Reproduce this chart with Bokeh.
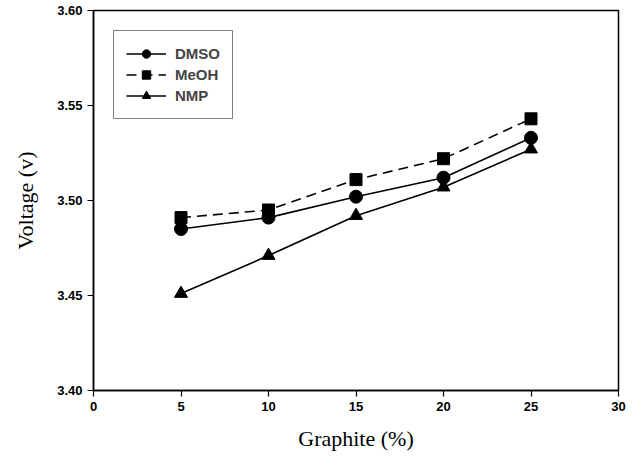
from bokeh.plotting import figure
from bokeh.embed import file_html
from bokeh.resources import INLINE
from bokeh.models import FixedTicker, PrintfTickFormatter, Legend, LegendItem, Range1d

graphite = [5, 10, 15, 20, 25]
dmso = [3.485, 3.491, 3.502, 3.512, 3.533]
meoh = [3.491, 3.495, 3.511, 3.522, 3.543]
nmp = [3.451, 3.471, 3.492, 3.507, 3.527]
x_ticks = [0, 5, 10, 15, 20, 25, 30]
y_ticks = [3.40, 3.45, 3.50, 3.55, 3.60]

p = figure(width=633, height=459, output_backend="svg", toolbar_location=None,
           x_range=Range1d(0, 30), y_range=Range1d(3.40, 3.60),
           min_border_left=93, min_border_right=15, min_border_top=10, min_border_bottom=69)
p.outline_line_color = "black"
p.outline_line_width = 1.5
p.xgrid.visible = False
p.ygrid.visible = False

l1 = p.line(graphite, dmso, line_color="black", line_width=1.6)
m1 = p.scatter(graphite, dmso, marker="circle", size=13, fill_color="black", line_color="black")
l2 = p.line(graphite, meoh, line_color="black", line_width=1.6, line_dash="10 6")
m2 = p.scatter(graphite, meoh, marker="square", size=12, fill_color="black", line_color="black")
l3 = p.line(graphite, nmp, line_color="black", line_width=1.6)
m3 = p.scatter(graphite, nmp, marker="triangle", size=13, fill_color="black", line_color="black")

legend = Legend(items=[
    LegendItem(label="DMSO", renderers=[l1, m1]),
    LegendItem(label="MeOH", renderers=[l2, m2]),
    LegendItem(label="NMP", renderers=[l3, m3]),
], location="top_left")
legend.margin = 20
legend.padding = 12
legend.spacing = 0
legend.label_height = 21
legend.glyph_height = 21
legend.glyph_width = 40
legend.label_standoff = 9
legend.label_text_font = "Liberation Sans"
legend.label_text_font_style = "bold"
legend.label_text_font_size = "15px"
legend.border_line_color = "black"
legend.border_line_width = 1.2
legend.background_fill_alpha = 1
p.add_layout(legend)

p.xaxis.ticker = FixedTicker(ticks=x_ticks)
p.yaxis.ticker = FixedTicker(ticks=y_ticks)
p.yaxis.formatter = PrintfTickFormatter(format="%.2f")
for ax in (p.xaxis[0], p.yaxis[0]):
    ax.major_label_text_font = "Liberation Sans"
    ax.major_label_text_font_style = "bold"
    ax.major_label_text_font_size = "13px"
    ax.major_label_text_color = "black"
    ax.axis_line_color = "black"
    ax.axis_line_width = 1.5
    ax.major_tick_line_color = "black"
    ax.major_tick_line_width = 1.2
    ax.major_tick_out = 6
    ax.major_tick_in = 0
    ax.minor_tick_line_color = None
    ax.axis_label_text_font = "Liberation Serif"
    ax.axis_label_text_font_style = "normal"
    ax.axis_label_text_font_size = "22px"
    ax.axis_label_text_color = "black"
p.xaxis.axis_label = "Graphite (%)"
p.yaxis.axis_label = "Voltage (v)"
p.xaxis.axis_label_standoff = 12
p.yaxis.axis_label_standoff = 16

open("out.html", "w").write(file_html(p, INLINE))
